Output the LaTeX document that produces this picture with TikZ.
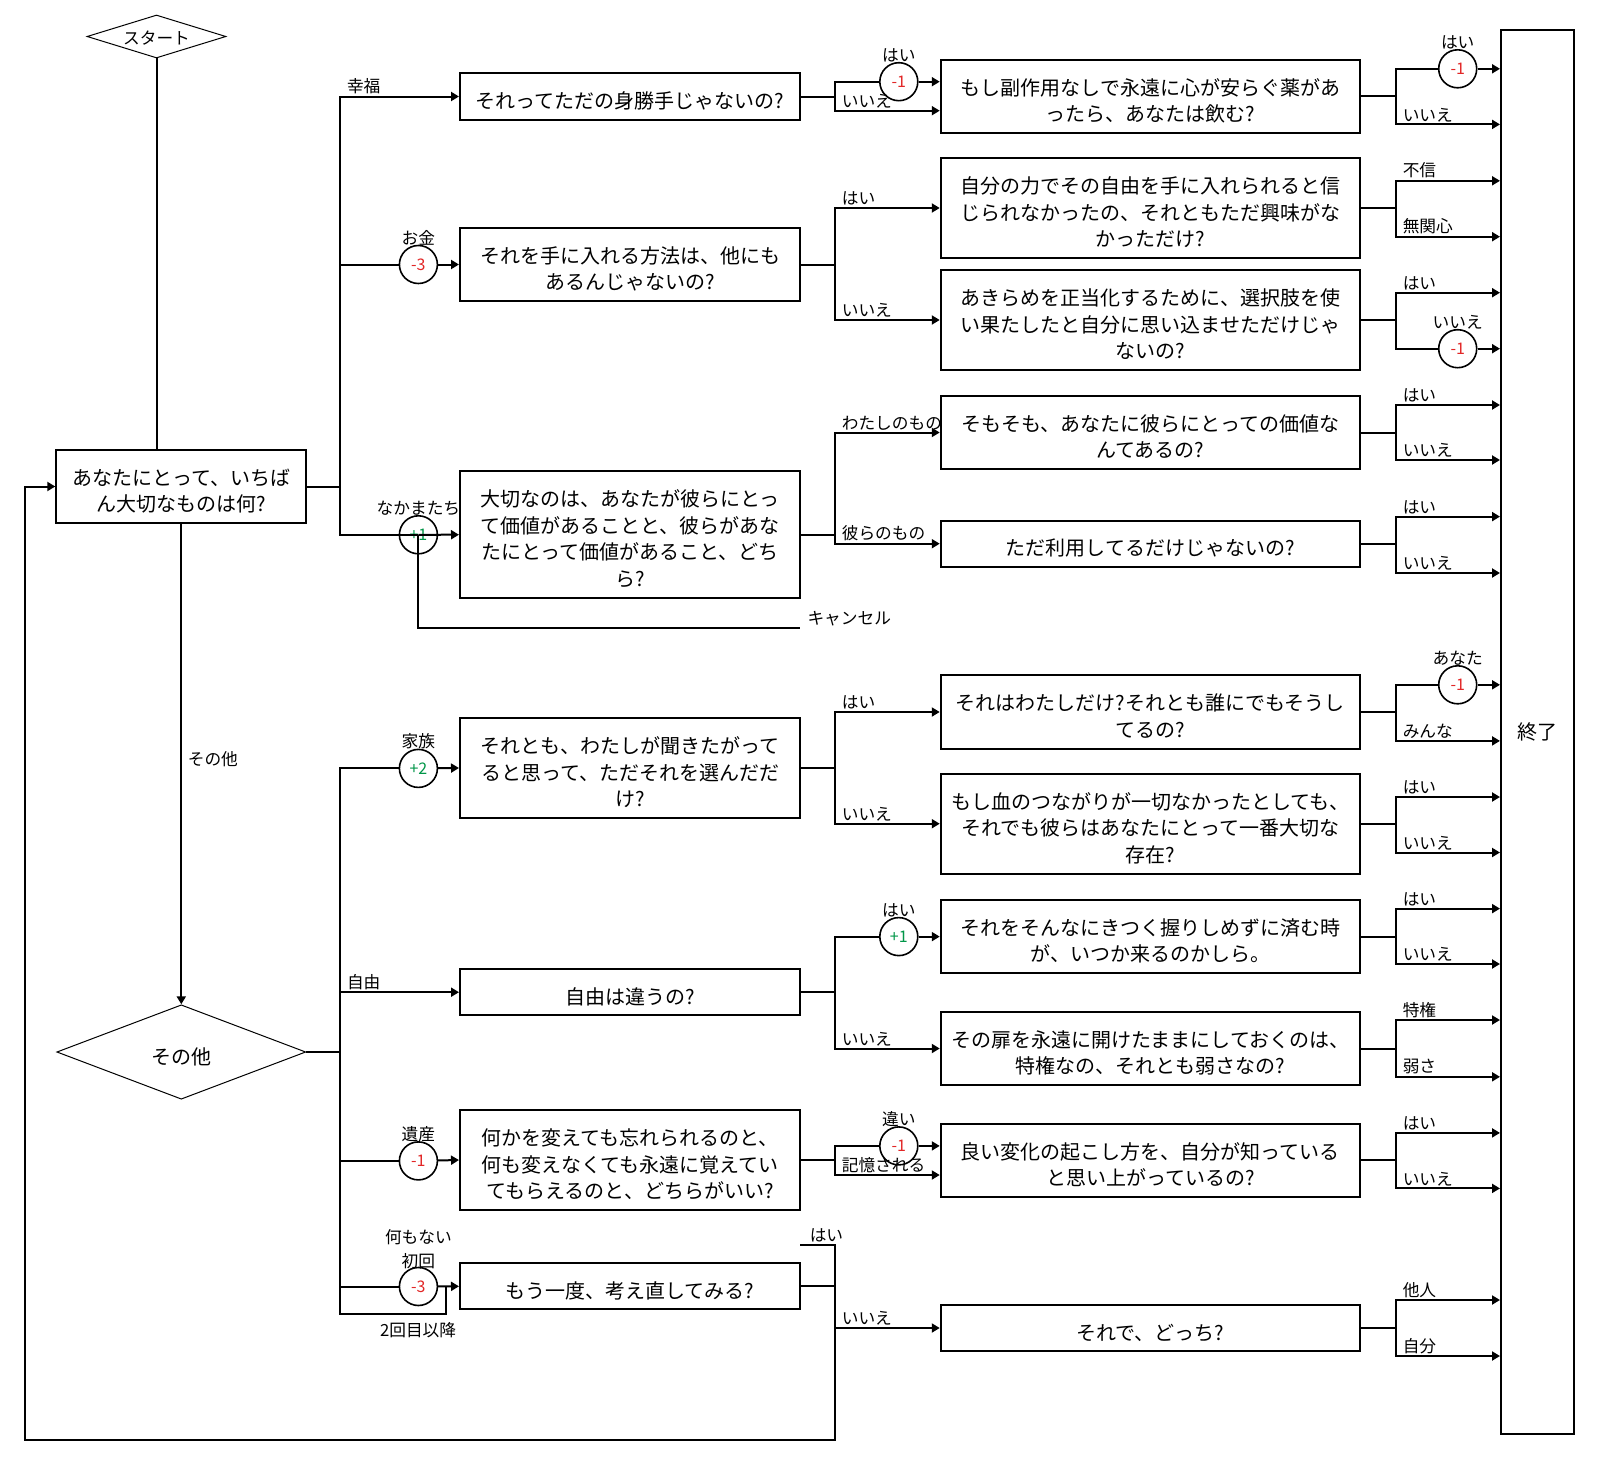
\documentclass[tikz,border=0pt]{standalone}
\usepackage{fontspec}
\setmainfont{Noto Sans CJK JP}
\usepackage{tikz}
\usetikzlibrary{shapes.geometric, arrows.meta}
\definecolor{minus}{RGB}{226,38,38}
\definecolor{plus}{RGB}{0,150,72}

\begin{document}
\begin{tikzpicture}[x=1pt, y=-1pt, line width=2pt,
    arr/.style={-{Triangle[length=8pt,width=9pt]}},
    lowtext/.style={execute at begin node={\pgfmathsetlengthmacro\qh{26pt+26.5pt*(#1-1)}\rule{0pt}{\qh}}, execute at end node={\rule[-2pt]{0pt}{2pt}}},
    question/.style={rectangle, draw, inner sep=0pt, align=center, font=\fontsize{20}{26.5}\selectfont, lowtext=#1, minimum height=19.5pt+26.8pt*#1},
    qleft/.style={question=#1, minimum width=340pt},
    qright/.style={question=#1, minimum width=419.3pt},
    score/.style={circle, draw, line width=1.6pt, minimum size=38pt, inner sep=0pt, font=\fontsize{16}{16}\selectfont},
    lab/.style={font=\fontsize{16.7}{24}\selectfont, inner sep=1.5pt},
    tag/.style={lab, yshift=-3pt},
    fork/.style={lab, pos=0.5, anchor=south west, xshift=4.5pt},
    choice/.style={diamond, draw, line width=1pt, inner sep=0pt, aspect=3}]
                \fill[white] (0,0) rectangle (1620,1464);
                \useasboundingbox (0,0) rectangle (1620,1464);

                % Start, first question and end
                \node[choice, minimum width=139pt, minimum height=43pt, font=\fontsize{16.7}{16.7}\selectfont,
                      execute at begin node={\rule{0pt}{17.5pt}}, execute at end node={\rule[-1pt]{0pt}{1pt}}] (start) at (156.5,36.5) {スタート};
                \node[question=2, minimum width=250pt] (top) at (181.3,486.5) {あなたにとって、いちば\\ん大切なものは何?};
                \node[choice, minimum width=249pt, minimum height=94.4pt, font=\fontsize{20}{20}\selectfont, lowtext=1] (other) at (181.3,1052) {その他};
                \node[draw, inner sep=0pt, minimum width=73pt, minimum height=1404pt, font=\fontsize{20}{20}\selectfont] (finish) at (1537.5,732) {終了};

                % First column of questions
                \node[qleft=1] (qa1) at (630,96.5) {それってただの身勝手じゃないの?};
                \node[qleft=2] (qa2) at (630,264.5) {それを手に入れる方法は、他にも\\あるんじゃないの?};
                \node[qleft=4] (qa3) at (630,534.7) {大切なのは、あなたが彼らにとっ\\て価値があることと、彼らがあな\\たにとって価値があること、どち\\ら?};
                \node[qleft=3] (qa4) at (630,768) {それとも、わたしが聞きたがって\\ると思って、ただそれを選んだだ\\け?};
                \node[qleft=1] (qa5) at (630,992.2) {自由は違うの?};
                \node[qleft=3] (qa6) at (630,1160) {何かを変えても忘れられるのと、\\何も変えなくても永遠に覚えてい\\てもらえるのと、どちらがいい?};
                \node[qleft=1] (qa7) at (630,1286.3) {もう一度、考え直してみる?};

                % Second column of questions
                \node[qright=2] (qb1) at (1150.4,96.4) {もし副作用なしで永遠に心が安らぐ薬があ\\ったら、あなたは飲む?};
                \node[qright=3] (qb2) at (1150.4,208) {自分の力でその自由を手に入れられると信\\じられなかったの、それともただ興味がな\\かっただけ?};
                \node[qright=3] (qb3) at (1150.4,320) {あきらめを正当化するために、選択肢を使\\い果たしたと自分に思い込ませただけじゃ\\ないの?};
                \node[qright=2] (qb4) at (1150.4,432.5) {そもそも、あなたに彼らにとっての価値な\\んてあるの?};
                \node[qright=1] (qb5) at (1150.4,543.7) {ただ利用してるだけじゃないの?};
                \node[qright=2] (qb6) at (1150.4,712) {それはわたしだけ?それとも誰にでもそうし\\てるの?};
                \node[qright=3] (qb7) at (1150.4,823.7) {もし血のつながりが一切なかったとしても、\\それでも彼らはあなたにとって一番大切な\\存在?};
                \node[qright=2] (qb8) at (1150.4,936.6) {それをそんなにきつく握りしめずに済む時\\が、いつか来るのかしら。};
                \node[qright=2] (qb9) at (1150.4,1048.5) {その扉を永遠に開けたままにしておくのは、\\特権なの、それとも弱さなの?};
                \node[qright=2] (qb10) at (1150.4,1160.4) {良い変化の起こし方を、自分が知っている\\と思い上がっているの?};
                \node[qright=1] (qb11) at (1150.4,1328) {それで、どっち?};

                % Score circles
                \node[score, label={[tag]above:お金}] (s1) at (418.4,264.5) {\textcolor{minus}{-3}};
                \node[score, label={[tag]above:なかまたち}] (s2) at (418.4,534.8) {\textcolor{plus}{+1}};
                \node[score, label={[tag]above:家族}] (s3) at (418.4,768.4) {\textcolor{plus}{+2}};
                \node[score, label={[tag]above:遺産}] (s4) at (418.4,1160.9) {\textcolor{minus}{-1}};
                \node[score, label={[lab, align=center, yshift=-5pt]above:何もない\\初回}] (s5) at (418.4,1286.5) {\textcolor{minus}{-3}};
                \node[score, label={[tag]above:はい}] (k1) at (898.8,81.7) {\textcolor{minus}{-1}};
                \node[score, label={[tag]above:はい}] (k2) at (898.8,936.6) {\textcolor{plus}{+1}};
                \node[score, label={[tag]above:違い}] (k3) at (898.8,1145.9) {\textcolor{minus}{-1}};
                \node[score, label={[tag]above:はい}] (e1) at (1457.7,68.8) {\textcolor{minus}{-1}};
                \node[score, label={[tag]above:いいえ}] (e2) at (1457.7,348.7) {\textcolor{minus}{-1}};
                \node[score, label={[tag]above:あなた}] (e3) at (1457.7,684.8) {\textcolor{minus}{-1}};

                % Start and the other branch
                \draw (start.south) -- (start.south |- top.north);
                \draw[arr] (top.south) -- (other.north) node[lab, pos=0.49, right=4pt] {その他};

                % Upper trunk
                \coordinate (hub1) at (340,486.5);
                \draw (top.east) -- (hub1);
                \draw[arr] (hub1) |- (qa1.west) node[fork] {幸福};
                \draw (hub1) |- (s1);
                \draw[arr] (s1) -- (qa2.west);
                \draw (hub1) |- (s2.center);
                \draw[arr] (s2.center) -- (qa3.west);
                \coordinate (cancel) at (800,628);
                \draw (s2.center) |- (cancel) node[lab, anchor=south west, xshift=5pt] {キャンセル};

                % Lower trunk
                \coordinate (hub2) at (340,1052);
                \draw (other.east) -- (hub2);
                \draw (hub2) |- (s3);
                \draw[arr] (s3) -- (qa4.west);
                \draw[arr] (hub2) |- (qa5.west) node[fork] {自由};
                \draw (hub2) |- (s4);
                \draw[arr] (s4) -- (qa6.west);
                \draw (hub2) |- (s5);
                \draw[arr] (s5) -- (qa7.west);
                \coordinate (again) at (445.5,1313.5);
                \draw (hub2) |- (again) node[lab, pos=0.87, below=6pt] {2回目以降} -- (again |- qa7);

                % Forks after the first column
                \draw (qa1.east) -- ++(33.8,0) coordinate (f1);
                \draw (f1) |- (k1);
                \draw[arr] (k1) -- (qb1.west |- k1);
                \draw[arr] (f1) |- (qb1.west |- 0,110.7) node[fork] {いいえ};

                \draw (qa2.east) -- ++(33.8,0) coordinate (f2);
                \draw[arr] (f2) |- (qb2.west) node[fork] {はい};
                \draw[arr] (f2) |- (qb3.west) node[fork] {いいえ};

                \draw (qa3.east) -- ++(33.8,0) coordinate (f3);
                \draw[arr] (f3) |- (qb4.west) node[fork] {わたしのもの};
                \draw[arr] (f3) |- (qb5.west) node[fork] {彼らのもの};

                \draw (qa4.east) -- ++(33.8,0) coordinate (f4);
                \draw[arr] (f4) |- (qb6.west) node[fork] {はい};
                \draw[arr] (f4) |- (qb7.west) node[fork] {いいえ};

                \draw (qa5.east) -- ++(33.8,0) coordinate (f5);
                \draw (f5) |- (k2);
                \draw[arr] (k2) -- (qb8.west);
                \draw[arr] (f5) |- (qb9.west) node[fork] {いいえ};

                \draw (qa6.east) -- ++(33.8,0) coordinate (f6);
                \draw (f6) |- (k3);
                \draw[arr] (k3) -- (qb10.west |- k3);
                \draw[arr] (f6) |- (qb10.west |- 0,1175) node[fork] {記憶される};

                \draw (qa7.east) -- ++(33.8,0) coordinate (f7);
                \coordinate (yesend) at (800,1245);
                \draw (f7) |- (yesend) node[lab, pos=0.62, anchor=south] {はい};
                \draw[arr] (f7) |- (qb11.west) node[fork] {いいえ};
                \coordinate (back) at (25.3,1440);
                \draw[arr] (f7) |- (back) |- (top.west);

                % Forks into the end
                \draw (qb1.east) -- ++(34.7,0) coordinate (g1);
                \draw (g1) |- (e1);
                \draw[arr] (e1) -- (finish.west |- e1);
                \draw[arr] (g1) |- (finish.west |- 0,124.4) node[fork] {いいえ};

                \draw (qb2.east) -- ++(34.7,0) coordinate (g2);
                \draw[arr] (g2) |- (finish.west |- 0,180.8) node[fork] {不信};
                \draw[arr] (g2) |- (finish.west |- 0,236.7) node[fork] {無関心};

                \draw (qb3.east) -- ++(34.7,0) coordinate (g3);
                \draw[arr] (g3) |- (finish.west |- 0,292.7) node[fork] {はい};
                \draw (g3) |- (e2);
                \draw[arr] (e2) -- (finish.west |- e2);

                \draw (qb4.east) -- ++(34.7,0) coordinate (g4);
                \draw[arr] (g4) |- (finish.west |- 0,405) node[fork] {はい};
                \draw[arr] (g4) |- (finish.west |- 0,460) node[fork] {いいえ};

                \draw (qb5.east) -- ++(34.7,0) coordinate (g5);
                \draw[arr] (g5) |- (finish.west |- 0,516.6) node[fork] {はい};
                \draw[arr] (g5) |- (finish.west |- 0,573) node[fork] {いいえ};

                \draw (qb6.east) -- ++(34.7,0) coordinate (g6);
                \draw (g6) |- (e3);
                \draw[arr] (e3) -- (finish.west |- e3);
                \draw[arr] (g6) |- (finish.west |- 0,740.9) node[fork] {みんな};

                \draw (qb7.east) -- ++(34.7,0) coordinate (g7);
                \draw[arr] (g7) |- (finish.west |- 0,797) node[fork] {はい};
                \draw[arr] (g7) |- (finish.west |- 0,852.5) node[fork] {いいえ};

                \draw (qb8.east) -- ++(34.7,0) coordinate (g8);
                \draw[arr] (g8) |- (finish.west |- 0,908.6) node[fork] {はい};
                \draw[arr] (g8) |- (finish.west |- 0,964) node[fork] {いいえ};

                \draw (qb9.east) -- ++(34.7,0) coordinate (g9);
                \draw[arr] (g9) |- (finish.west |- 0,1020) node[fork] {特権};
                \draw[arr] (g9) |- (finish.west |- 0,1076.8) node[fork] {弱さ};

                \draw (qb10.east) -- ++(34.7,0) coordinate (g10);
                \draw[arr] (g10) |- (finish.west |- 0,1132.9) node[fork] {はい};
                \draw[arr] (g10) |- (finish.west |- 0,1188.4) node[fork] {いいえ};

                \draw (qb11.east) -- ++(34.7,0) coordinate (g11);
                \draw[arr] (g11) |- (finish.west |- 0,1300) node[fork] {他人};
                \draw[arr] (g11) |- (finish.west |- 0,1356) node[fork] {自分};
            \end{tikzpicture}
\end{document}
